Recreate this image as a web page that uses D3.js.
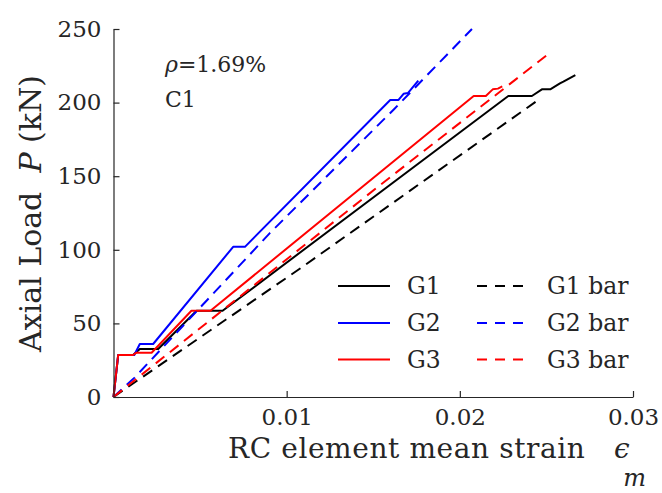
<!DOCTYPE html>
<html>
<head>
<meta charset="utf-8">
<script src="https://cdn.jsdelivr.net/npm/d3@7"></script>
<style>
  html, body { margin: 0; padding: 0; background: #fff; }
  svg { display: block; }
  text { font-family: "DejaVu Serif", "Liberation Serif", serif; fill: #262626; }
</style>
</head>
<body>
<script>
// Axial load vs. mean strain of the RC element
const strainG1 = [0, 0.00027, 0.00113, 0.00152, 0.00258, 0.0048, 0.0063, 0.0228, 0.02416, 0.02474, 0.02522, 0.02578, 0.02598, 0.02667];
const loadG1   = [0, 28.5, 28.5, 32.6, 32.6, 58.6, 58.6, 204.5, 204.5, 209, 209, 213, 214.2, 218.7];

const strainG2 = [0, 0.00027, 0.0012, 0.00152, 0.00229, 0.00691, 0.00759, 0.01598, 0.01646, 0.01675, 0.0170, 0.0176];
const loadG2   = [0, 28.5, 28.5, 36, 36, 102, 102, 201.8, 201.8, 206, 206.5, 215];

const strainG3 = [0, 0.00027, 0.00113, 0.00133, 0.0022, 0.0045, 0.0056, 0.0208, 0.0215, 0.0219, 0.0222, 0.02245];
const loadG3   = [0, 28.5, 28.5, 30.1, 30.1, 58.6, 58.6, 204.5, 204.5, 209, 209.5, 211];

const strainG1bar = [0, 0.0108, 0.0246];
const loadG1bar   = [0, 87.5, 202.4];
const strainG2bar = [0, 0.0012, 0.009, 0.0162, 0.0207];
const loadG2bar   = [0, 13, 111, 195.5, 250];
const strainG3bar = [0, 0.0108, 0.0154, 0.0250];
const loadG3bar   = [0, 101, 144, 232];

const xTicks = [0.01, 0.02, 0.03];
const yTicks = [0, 50, 100, 150, 200, 250];

const seriesNames = ["G1", "G2", "G3", "G1 bar", "G2 bar", "G3 bar"];
const seriesColors = ["#000000", "#0000ff", "#ff0000", "#000000", "#0000ff", "#ff0000"];
const seriesDashed = [false, false, false, true, true, true];
const seriesX = [strainG1, strainG2, strainG3, strainG1bar, strainG2bar, strainG3bar];
const seriesY = [loadG1, loadG2, loadG3, loadG1bar, loadG2bar, loadG3bar];

const W = 662, H = 493;
const plotLeft = 113.5, plotRight = 633, plotTop = 29, plotBottom = 397;

const svg = d3.select("body").append("svg").attr("width", W).attr("height", H);

const x = d3.scaleLinear().domain([0, 0.03]).range([plotLeft, plotRight]);
const y = d3.scaleLinear().domain([0, 250]).range([plotBottom, plotTop]);

const dash = "11,7";

// curves
const line = d3.line().x(d => x(d[0])).y(d => y(d[1]));
const plot = svg.append("g");
seriesX.forEach((xs, i) => {
  const pts = xs.map((v, k) => [v, seriesY[i][k]]);
  plot.append("path")
    .attr("d", line(pts))
    .attr("fill", "none")
    .attr("stroke", seriesColors[i])
    .attr("stroke-width", 2)
    .attr("stroke-linejoin", "round")
    .attr("stroke-dasharray", seriesDashed[i] ? dash : null);
});

// axes (ticks pointing inward)
const xAxis = d3.axisBottom(x).tickValues(xTicks).tickSizeInner(-6).tickSizeOuter(0)
  .tickPadding(11.5).tickFormat(d3.format(".2f"));
const gx = svg.append("g").attr("transform", `translate(0,${plotBottom})`).call(xAxis);
const yAxis = d3.axisLeft(y).tickValues(yTicks).tickSizeInner(-6).tickSizeOuter(0)
  .tickPadding(12).tickFormat(d3.format("d"));
const gy = svg.append("g").attr("transform", `translate(${plotLeft},0)`).call(yAxis);

[gx, gy].forEach(g => {
  g.select(".domain").attr("stroke", "#262626").attr("stroke-width", 1.2);
  g.selectAll(".tick line").attr("stroke", "#262626").attr("stroke-width", 1.2);
  g.selectAll(".tick text").style("font-family", "DejaVu Serif").style("font-size", "23px").attr("fill", "#262626");
});
gx.selectAll(".tick text").attr("dy", "0.71em");

// axis titles
const xl = svg.append("text")
  .attr("x", 228).attr("y", 458)
  .attr("text-anchor", "start")
  .style("font-size", "28px")
  .style("letter-spacing", "0.6px");
xl.append("tspan").text("RC element mean strain\u00a0\u00a0\u00a0");
xl.append("tspan").style("font-style", "italic").text("\u03f5");
xl.append("tspan").style("font-style", "italic").style("font-size", "24px").attr("dx", -7).attr("dy", 28).text("m");

const yl = svg.append("text")
  .attr("transform", "translate(41,213.5) rotate(-90)")
  .attr("text-anchor", "middle")
  .style("font-size", "30px");
yl.append("tspan").text("Axial Load\u00a0\u00a0");
yl.append("tspan").style("font-style", "italic").text("P");
yl.append("tspan").text(" (kN)");

// annotation
const ann = svg.append("text").attr("x", 165).attr("y", 72).style("font-size", "22px");
ann.append("tspan").style("font-style", "italic").text("\u03c1");
ann.append("tspan").text("=1.69%");
svg.append("text").attr("x", 165).attr("y", 107).style("font-size", "22px").text("C1");

// legend, two columns
const legRows = [286, 323, 359.5];
const legCols = [{x0: 338, x1: 390, tx: 407}, {x0: 477, x1: 527, tx: 547}];
seriesNames.forEach((name, i) => {
  const c = legCols[Math.floor(i / 3)];
  const r = legRows[i % 3];
  svg.append("line")
    .attr("x1", c.x0).attr("x2", c.x1).attr("y1", r).attr("y2", r)
    .attr("stroke", seriesColors[i]).attr("stroke-width", 2)
    .attr("stroke-dasharray", seriesDashed[i] ? "10,8" : null);
  svg.append("text").attr("x", c.tx).attr("y", r + 8)
    .style("font-size", "23.5px").text(name);
});
</script>
</body>
</html>
